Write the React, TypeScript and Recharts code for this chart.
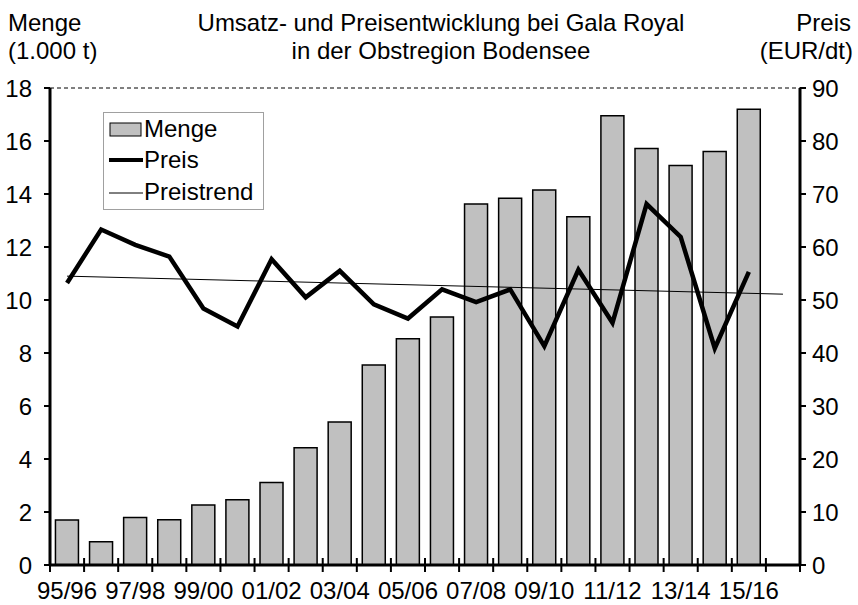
import React from "react";
import { ComposedChart, Bar, Line, XAxis, YAxis, CartesianGrid } from "recharts";

const seasons = [
  "95/96", "96/97", "97/98", "98/99", "99/00", "00/01", "01/02", "02/03", "03/04", "04/05", "05/06",
  "06/07", "07/08", "08/09", "09/10", "10/11", "11/12", "12/13", "13/14", "14/15", "15/16", "16/17",
];
const menge = [
  1.7, 0.88, 1.79, 1.71, 2.26, 2.46, 3.11, 4.42, 5.4, 7.55, 8.54,
  9.36, 13.62, 13.84, 14.15, 13.14, 16.95, 15.72, 15.08, 15.6, 17.2, null,
];
const preis = [
  53.2, 63.3, 60.4, 58.2, 48.4, 45.0, 57.7, 50.5, 55.5, 49.2, 46.5,
  52.0, 49.6, 52.0, 41.3, 55.7, 45.7, 68.1, 61.9, 40.9, 55.3, null,
];
// Trendlinie: nur Anfangs- und Endpunkt (Gerade), reicht eine Saison weiter
const preistrend = [
  54.5, null, null, null, null, null, null, null, null, null, null,
  null, null, null, null, null, null, null, null, null, null, 51.1,
];
const mengeTicks = [0, 2, 4, 6, 8, 10, 12, 14, 16, 18];
const preisTicks = [0, 10, 20, 30, 40, 50, 60, 70, 80, 90];

const data = seasons.map((s, i) => ({
  season: s,
  menge: menge[i],
  preis: preis[i],
  trend: preistrend[i],
}));

const FONT = "'Liberation Sans', Arial, sans-serif";
const FS = 24;

const SeasonTick = (props: any) => {
  const { x, y, payload, index } = props;
  const half = payload && payload.offset ? payload.offset : 17;
  const last = index === seasons.length - 1;
  return (
    <g>
      <line x1={x - half} x2={x - half} y1={y - 7} y2={y + 7} stroke="#000" strokeWidth={2} />
      {last && <line x1={x + half} x2={x + half} y1={y - 7} y2={y + 7} stroke="#000" strokeWidth={2} />}
      {index % 2 === 0 && (
        <text x={x} y={y + 34} textAnchor="middle" fontSize={FS} fill="#000" fontFamily={FONT}>
          {payload.value}
        </text>
      )}
    </g>
  );
};

const LegendBox = () => (
  <svg width={161} height={98} style={{ position: "absolute", left: 103, top: 112 }}>
    <rect x={0.5} y={0.5} width={160} height={97} fill="#fff" stroke="#a0a0a0" strokeWidth={1} />
    <rect x={7} y={11} width={31} height={13} fill="#c0c0c0" stroke="#000" strokeWidth={1} />
    <line x1={6} x2={40} y1={48} y2={48} stroke="#000" strokeWidth={4} />
    <line x1={6} x2={40} y1={81} y2={81} stroke="#000" strokeWidth={1} />
    <text x={41} y={25} fontSize={FS} fontFamily={FONT}>Menge</text>
    <text x={41} y={56} fontSize={FS} fontFamily={FONT}>Preis</text>
    <text x={41} y={88} fontSize={FS} fontFamily={FONT}>Preistrend</text>
  </svg>
);

export default function App() {
  return (
    <div style={{ position: "absolute", left: 0, top: 0, width: 858, height: 605, background: "#fff", fontFamily: FONT }}>
      <svg width={858} height={88} style={{ position: "absolute", left: 0, top: 0 }}>
        <text x={8} y={31} fontSize={FS} fontFamily={FONT}>Menge</text>
        <text x={8} y={59} fontSize={FS} fontFamily={FONT}>(1.000 t)</text>
        <text x={441} y={31} fontSize={FS} fontFamily={FONT} textAnchor="middle">
          Umsatz- und Preisentwicklung bei Gala Royal
        </text>
        <text x={441} y={59} fontSize={FS} fontFamily={FONT} textAnchor="middle">
          in der Obstregion Bodensee
        </text>
        <text x={851} y={31} fontSize={FS} fontFamily={FONT} textAnchor="end">Preis</text>
        <text x={853} y={59} fontSize={FS} fontFamily={FONT} textAnchor="end">(EUR/dt)</text>
      </svg>
      <ComposedChart
        width={858}
        height={605}
        data={data}
        margin={{ top: 88, right: 8, left: 5, bottom: 10 }}
        barCategoryGap="16%"
      >
        <CartesianGrid vertical={false} stroke="#000" strokeDasharray="4 3" strokeWidth={1} />
        <XAxis
          dataKey="season"
          interval={0}
          height={30}
          tickSize={0}
          tickMargin={0}
          tickLine={false}
          axisLine={{ stroke: "#000", strokeWidth: 3 }}
          tick={<SeasonTick />}
        />
        <YAxis
          yAxisId="left"
          domain={[0, 18]}
          ticks={mengeTicks}
          width={45}
          tickSize={6}
          tickMargin={12}
          axisLine={{ stroke: "#000", strokeWidth: 3 }}
          tickLine={{ stroke: "#000", strokeWidth: 2 }}
          tick={{ fontSize: FS, fill: "#000", fontFamily: FONT }}
        />
        <YAxis
          yAxisId="right"
          orientation="right"
          domain={[0, 90]}
          ticks={preisTicks}
          width={50}
          tickSize={6}
          tickMargin={6}
          axisLine={{ stroke: "#000", strokeWidth: 3 }}
          tickLine={{ stroke: "#000", strokeWidth: 2 }}
          tick={{ fontSize: FS, fill: "#000", fontFamily: FONT }}
        />
        <Bar
          yAxisId="left"
          dataKey="menge"
          name="Menge"
          fill="#c0c0c0"
          stroke="#000"
          strokeWidth={1.5}
          isAnimationActive={false}
        />
        <Line
          yAxisId="right"
          dataKey="preis"
          name="Preis"
          type="linear"
          stroke="#000"
          strokeWidth={4.5}
          strokeLinejoin="miter"
          dot={false}
          activeDot={false}
          isAnimationActive={false}
        />
        <Line
          yAxisId="right"
          dataKey="trend"
          name="Preistrend"
          type="linear"
          stroke="#000"
          strokeWidth={1}
          dot={false}
          activeDot={false}
          connectNulls
          isAnimationActive={false}
        />
      </ComposedChart>
      <LegendBox />
    </div>
  );
}
